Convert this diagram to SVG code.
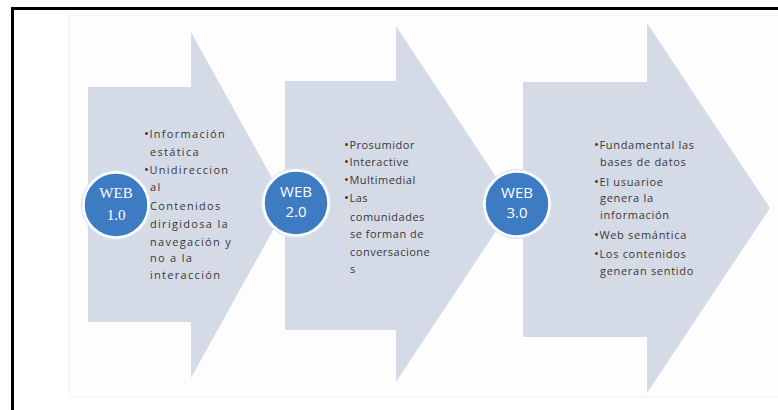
<svg xmlns="http://www.w3.org/2000/svg" width="778" height="410" viewBox="0 0 778 410">
  <style>
    .arrow { fill: #d5dbe6; }
    .glow { fill: #d6e5f4; }
    .disc { fill: #3d7bc3; stroke: #ffffff; stroke-width: 2.5; }
    .ctext { fill: #ffffff; font-size: 15px; text-anchor: middle; }
    .serif { font-family: "Liberation Serif", "DejaVu Serif", serif; }
    .sans { font-family: "Open Sans", "Liberation Sans", sans-serif; }
    .body { fill: #383838; font-family: "Open Sans", "Liberation Sans", sans-serif; font-size: 11px; }
    .b { font-size: 13px; letter-spacing: 0.5px; }
    .t1 { letter-spacing: 1.3px; }
    .t2 { letter-spacing: 0.5px; }
    .t3 { letter-spacing: 0.7px; }
  </style>
  <rect x="0" y="0" width="778" height="410" fill="#ffffff"/>
  <rect x="69" y="15" width="720" height="382" fill="#fdfdfd" stroke="#f2f2f2" stroke-width="1"/>
  <rect x="12.5" y="8.5" width="780" height="420" fill="none" stroke="#000000" stroke-width="3"/>

  <g id="connectors"></g>

  <g id="web1">
    <path class="arrow" d="M88,87 H191 V32 L287,205 L191,378 V322 H88 Z"/>
    <circle class="glow" cx="116" cy="205" r="35"/>
    <circle class="disc" cx="116" cy="205" r="32.5"/>
    <text class="ctext serif" x="116" y="198">WEB</text>
    <text class="ctext serif" x="116" y="220">1.0</text>
    <g class="body t1">
      <text x="144" y="138"><tspan class="b">•</tspan>Información</text>
      <text x="150" y="156">estática</text>
      <text x="144" y="174"><tspan class="b">•</tspan>Unidireccion</text>
      <text x="150" y="191">al</text>
      <text x="150" y="210">Contenidos</text>
      <text x="150" y="228">dirigidosa la</text>
      <text x="150" y="246">navegación y</text>
      <text x="150" y="262">no a la</text>
      <text x="150" y="279">interacción</text>
    </g>
  </g>

  <g id="web2">
    <path class="arrow" d="M285,81 H396 V26 L514,204 L396,382 V330 H285 Z"/>
    <circle class="glow" cx="296" cy="203" r="35"/>
    <circle class="disc" cx="296" cy="203" r="32.5"/>
    <text class="ctext sans" x="296" y="197">WEB</text>
    <text class="ctext sans" x="296" y="217">2.0</text>
    <g class="body t2">
      <text x="344" y="149"><tspan class="b">•</tspan>Prosumidor</text>
      <text x="344" y="166"><tspan class="b">•</tspan>Interactive</text>
      <text x="344" y="184"><tspan class="b">•</tspan>Multimedial</text>
      <text x="344" y="202"><tspan class="b">•</tspan>Las</text>
      <text x="350" y="221">comunidades</text>
      <text x="350" y="238">se forman de</text>
      <text x="350" y="256">conversacione</text>
      <text x="350" y="273">s</text>
    </g>
  </g>

  <g id="web3">
    <path class="arrow" d="M523,82 H647 V23 L770,208 L647,393 V337 H523 Z"/>
    <circle class="glow" cx="517" cy="204" r="35"/>
    <circle class="disc" cx="517" cy="204" r="32.5"/>
    <text class="ctext sans" x="517" y="198">WEB</text>
    <text class="ctext sans" x="517" y="218">3.0</text>
    <g class="body t3">
      <text x="594" y="149"><tspan class="b">•</tspan>Fundamental las</text>
      <text x="600" y="166">bases de datos</text>
      <text x="594" y="186"><tspan class="b">•</tspan>El usuarioe</text>
      <text x="600" y="202">genera la</text>
      <text x="600" y="219">información</text>
      <text x="594" y="239"><tspan class="b">•</tspan>Web semántica</text>
      <text x="594" y="258"><tspan class="b">•</tspan>Los contenidos</text>
      <text x="600" y="275">generan sentido</text>
    </g>
  </g>
</svg>
